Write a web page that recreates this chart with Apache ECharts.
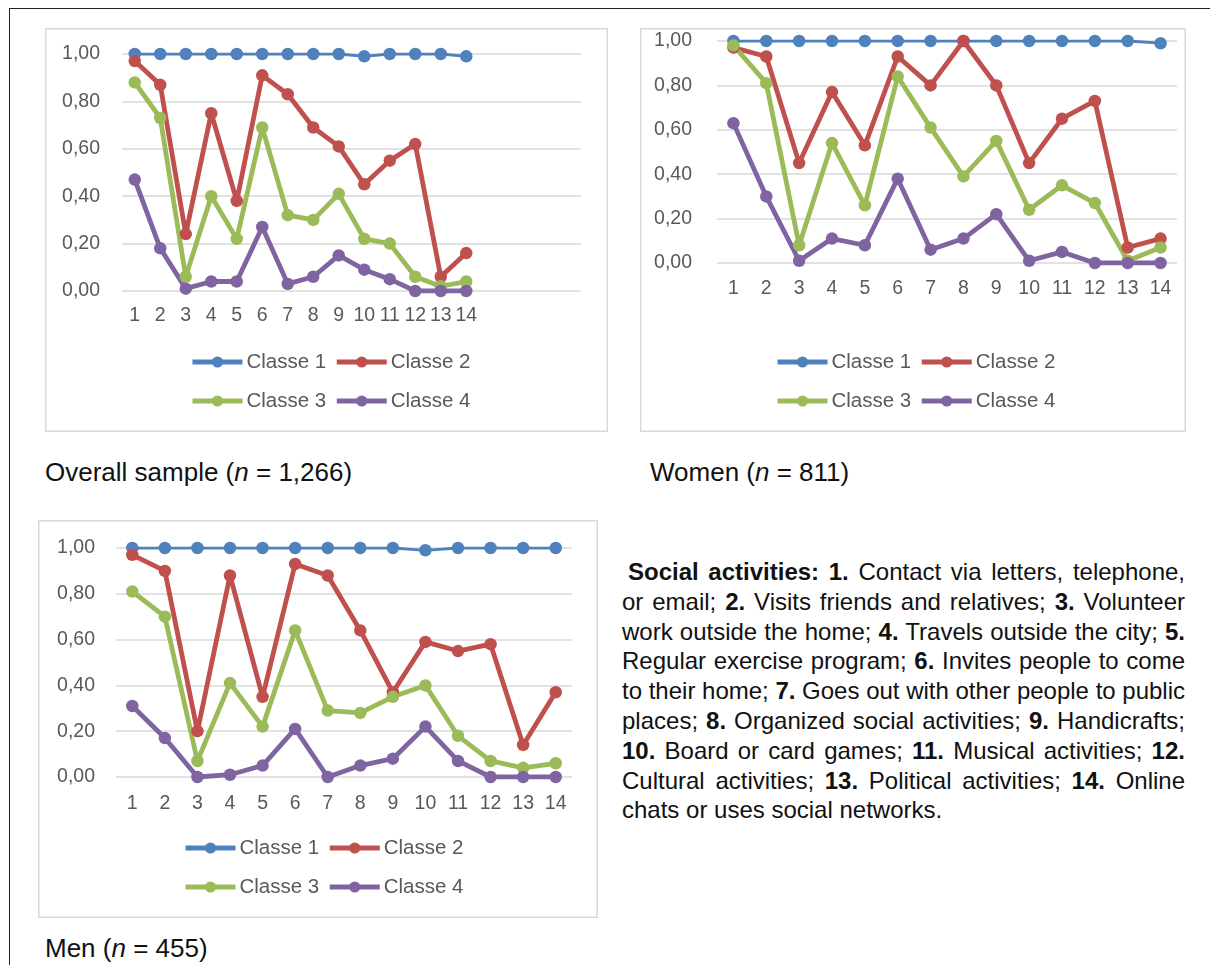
<!DOCTYPE html>
<html>
<head>
<meta charset="utf-8">
<script src="https://cdn.jsdelivr.net/npm/echarts@6/dist/echarts.min.js"></script>
<style>
  html, body { margin:0; padding:0; background:#fff; }
  body { width:1210px; height:965px; position:relative; overflow:hidden; font-family:"Liberation Sans", Arial, sans-serif; }
  .frame { position:absolute; left:9px; top:8px; right:-10px; bottom:-10px; border-top:1.5px solid #222; border-left:1.5px solid #222; }
  .chart { position:absolute; }
  .cap { position:absolute; font-size:26px; color:#111; line-height:30px; white-space:nowrap; }
  .desc { position:absolute; left:622px; top:557px; width:563px; font-size:24px; color:#111; }
  .desc div { height:29.8px; line-height:29.8px; white-space:nowrap; text-align:justify; text-align-last:justify; }
  .desc div.last { text-align-last:left; }
</style>
</head>
<body>
<div class="frame"></div>
<div id="c1" class="chart" style="left:45px;top:28px;width:563px;height:404px;"></div>
<div id="c2" class="chart" style="left:640px;top:28px;width:546px;height:404px;"></div>
<div id="c3" class="chart" style="left:38px;top:520px;width:560px;height:398px;"></div>
<div class="cap" style="left:45px;top:457px;">Overall sample (<i>n</i> = 1,266)</div>
<div class="cap" style="left:650px;top:457px;">Women (<i>n</i> = 811)</div>
<div class="cap" style="left:45px;top:933px;">Men (<i>n</i> = 455)</div>
<div class="desc">
  <div style="text-indent:6px;"><b>Social activities: 1.</b> Contact via letters, telephone,</div>
  <div>or email; <b>2.</b> Visits friends and relatives; <b>3.</b> Volunteer</div>
  <div>work outside the home; <b>4.</b> Travels outside the city; <b>5.</b></div>
  <div>Regular exercise program; <b>6.</b> Invites people to come</div>
  <div>to their home; <b>7.</b> Goes out with other people to public</div>
  <div>places; <b>8.</b> Organized social activities; <b>9.</b> Handicrafts;</div>
  <div><b>10.</b> Board or card games; <b>11.</b> Musical activities; <b>12.</b></div>
  <div>Cultural activities; <b>13.</b> Political activities; <b>14.</b> Online</div>
  <div class="last">chats or uses social networks.</div>
</div>
<script>
// ---- data ----
const categories = ['1','2','3','4','5','6','7','8','9','10','11','12','13','14'];
const seriesNames = ['Classe 1','Classe 2','Classe 3','Classe 4'];
const yTicks = [0, 0.2, 0.4, 0.6, 0.8, 1.0];

const overallC1 = [1.00,1.00,1.00,1.00,1.00,1.00,1.00,1.00,1.00,0.99,1.00,1.00,1.00,0.99];
const overallC2 = [0.97,0.87,0.24,0.75,0.38,0.91,0.83,0.69,0.61,0.45,0.55,0.62,0.06,0.16];
const overallC3 = [0.88,0.73,0.06,0.40,0.22,0.69,0.32,0.30,0.41,0.22,0.20,0.06,0.02,0.04];
const overallC4 = [0.47,0.18,0.01,0.04,0.04,0.27,0.03,0.06,0.15,0.09,0.05,0.00,0.00,0.00];

const womenC1 = [1.00,1.00,1.00,1.00,1.00,1.00,1.00,1.00,1.00,1.00,1.00,1.00,1.00,0.99];
const womenC2 = [0.97,0.93,0.45,0.77,0.53,0.93,0.80,1.00,0.80,0.45,0.65,0.73,0.07,0.11];
const womenC3 = [0.98,0.81,0.08,0.54,0.26,0.84,0.61,0.39,0.55,0.24,0.35,0.27,0.01,0.07];
const womenC4 = [0.63,0.30,0.01,0.11,0.08,0.38,0.06,0.11,0.22,0.01,0.05,0.00,0.00,0.00];

const menC1 = [1.00,1.00,1.00,1.00,1.00,1.00,1.00,1.00,1.00,0.99,1.00,1.00,1.00,1.00];
const menC2 = [0.97,0.90,0.20,0.88,0.35,0.93,0.88,0.64,0.37,0.59,0.55,0.58,0.14,0.37];
const menC3 = [0.81,0.70,0.07,0.41,0.22,0.64,0.29,0.28,0.35,0.40,0.18,0.07,0.04,0.06];
const menC4 = [0.31,0.17,0.00,0.01,0.05,0.21,0.00,0.05,0.08,0.22,0.07,0.00,0.00,0.00];

// ---- styling ----
const colors = ['#4F81BD','#C0504D','#9BBB59','#8064A2'];
const labelColor = '#595959';
const gridColor = '#d9d9d9';
const fontFam = '"Liberation Sans", Arial, sans-serif';

function makeChart(id, cfg) {
  const el = document.getElementById(id);
  const w = el.clientWidth, h = el.clientHeight;
  const chart = echarts.init(el, null, { renderer: 'canvas' });
  const xData = categories.concat(Array(cfg.extraSlots).fill(''));
  const legendBase = {
    orient: 'horizontal', padding: 0, itemWidth: 50, itemHeight: 14, itemGap: 8,
    left: cfg.legendLeft, selectedMode: false,
    textStyle: { color: labelColor, fontSize: 20.5, fontFamily: fontFam, padding: [0,0,0,-1] },
    lineStyle: { width: 5 }
  };
  chart.setOption({
    animation: false,
    textStyle: { fontFamily: fontFam },
    graphic: [{
      type: 'rect', silent: true, z: -1,
      shape: { x: 0.75, y: 0.75, width: w - 1.5, height: h - 1.5 },
      style: { fill: 'none', stroke: gridColor, lineWidth: 1.5 }
    }],
    grid: { left: cfg.grid[0], right: cfg.grid[1], top: cfg.grid[2], bottom: cfg.grid[3] },
    xAxis: {
      type: 'category', data: xData, boundaryGap: true,
      axisLine: { show: false }, axisTick: { show: false },
      axisLabel: { interval: 0, color: labelColor, fontSize: 19.5, margin: cfg.xMargin }
    },
    yAxis: {
      type: 'value', min: yTicks[0], max: yTicks[yTicks.length - 1], interval: 0.2,
      axisLine: { show: false }, axisTick: { show: false },
      axisLabel: { color: labelColor, fontSize: 19.5, margin: cfg.yMargin,
        formatter: v => v.toFixed(2).replace('.', ',') },
      splitLine: { lineStyle: { color: gridColor, width: 1.5 } }
    },
    legend: [
      Object.assign({}, legendBase, { data: [seriesNames[0], seriesNames[1]], top: cfg.legendTop[0] }),
      Object.assign({}, legendBase, { data: [seriesNames[2], seriesNames[3]], top: cfg.legendTop[1] })
    ],
    series: cfg.data.map((d, i) => ({
      name: seriesNames[i], type: 'line', data: d,
      symbol: 'circle', symbolSize: 12.5, showSymbol: true,
      lineStyle: { width: i === 0 ? 2.8 : 4.8, color: colors[i] },
      itemStyle: { color: colors[i] },
      emphasis: { disabled: true }
    }))
  });
}

makeChart('c1', {
  data: [overallC1, overallC2, overallC3, overallC4],
  extraSlots: 4,
  grid: [77, 27, 26, 141],
  xMargin: 15, yMargin: 22,
  legendLeft: 145, legendTop: [323.5, 362.5]
});
makeChart('c2', {
  data: [womenC1, womenC2, womenC3, womenC4],
  extraSlots: 0,
  grid: [77, 9, 13, 169],
  xMargin: 16, yMargin: 25,
  legendLeft: 135, legendTop: [323.5, 362.5]
});
makeChart('c3', {
  data: [menC1, menC2, menC3, menC4],
  extraSlots: 0,
  grid: [78, 26, 28, 141],
  xMargin: 17, yMargin: 21,
  legendLeft: 145, legendTop: [317.5, 356.5]
});
</script>
</body>
</html>
